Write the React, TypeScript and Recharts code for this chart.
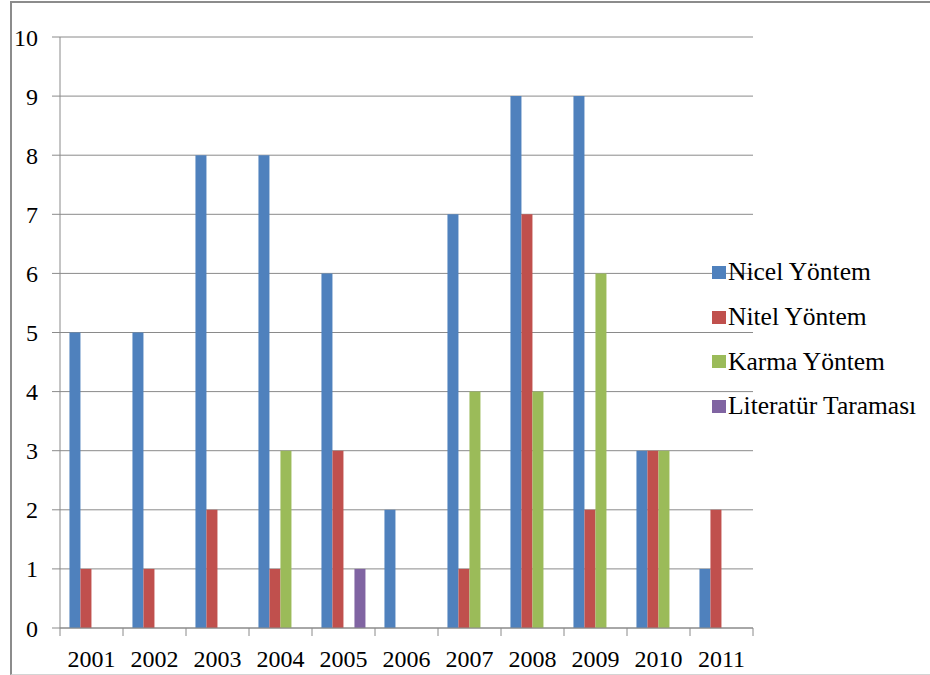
import { BarChart, Bar, XAxis, YAxis, CartesianGrid } from 'recharts';

const years = ['2001', '2002', '2003', '2004', '2005', '2006', '2007', '2008', '2009', '2010', '2011'];
const nicel = [5, 5, 8, 8, 6, 2, 7, 9, 9, 3, 1];
const nitel = [1, 1, 2, 1, 3, 0, 1, 7, 2, 3, 2];
const karma = [0, 0, 0, 3, 0, 0, 4, 4, 6, 3, 0];
const literatur = [0, 0, 0, 0, 1, 0, 0, 0, 0, 0, 0];
const yTicks = [0, 1, 2, 3, 4, 5, 6, 7, 8, 9, 10];

const series = [
  { key: 'nicel', name: 'Nicel Yöntem', color: '#4F81BD' },
  { key: 'nitel', name: 'Nitel Yöntem', color: '#C0504D' },
  { key: 'karma', name: 'Karma Yöntem', color: '#9BBB59' },
  { key: 'literatur', name: 'Literatür Taraması', color: '#8064A2' },
];

const data = years.map((y, i) => ({
  year: y,
  nicel: nicel[i],
  nitel: nitel[i],
  karma: karma[i],
  literatur: literatur[i],
}));

const FONT = "'Liberation Serif', 'Times New Roman', serif";
const GRID = '#8a8a8a';
const HALF_BAND = 693 / 11 / 2;

// Excel-style category axis: tick marks sit between the categories
function YearTick(props: any) {
  const { x, y, payload, index } = props;
  const top = y - 8;
  return (
    <g>
      <line x1={x - HALF_BAND} x2={x - HALF_BAND} y1={top} y2={top + 8} stroke={GRID} />
      {index === years.length - 1 && (
        <line x1={x + HALF_BAND} x2={x + HALF_BAND} y1={top} y2={top + 8} stroke={GRID} />
      )}
      <text x={x} y={top + 39} textAnchor="middle" fontSize={24} style={{ fontFamily: FONT }} fill="#000">
        {payload.value}
      </text>
    </g>
  );
}

export default function App() {
  return (
    <div style={{ position: 'absolute', left: 0, top: 0, width: 930, height: 675, background: '#fff' }}>
      <div
        style={{
          position: 'absolute',
          left: 10,
          top: 1,
          width: 920,
          height: 671,
          borderTop: '2px solid #8c8c8c',
          borderLeft: '2px solid #8c8c8c',
          borderBottom: '1px solid #d4d4d4',
        }}
      />
      <BarChart
        width={930}
        height={675}
        data={data}
        margin={{ top: 37, right: 177, bottom: 0, left: 12 }}
        barCategoryGap="15%"
        barGap={0}
        style={{ fontFamily: FONT }}
      >
        <CartesianGrid vertical={false} stroke={GRID} />
        <XAxis
          dataKey="year"
          stroke={GRID}
          tickLine={false}
          tick={<YearTick />}
          interval={0}
          height={47}
        />
        <YAxis
          domain={[0, 10]}
          ticks={yTicks}
          interval={0}
          width={48}
          stroke={GRID}
          tickSize={8}
          tickMargin={14}
          tick={{ fontSize: 24, fill: '#000', style: { fontFamily: FONT } }}
        />
        {series.map((s) => (
          <Bar key={s.key} dataKey={s.key} name={s.name} fill={s.color} isAnimationActive={false} />
        ))}
      </BarChart>
      <div style={{ position: 'absolute', left: 712, top: 250, fontFamily: FONT, fontSize: 25.5, color: '#000' }}>
        {series.map((s) => (
          <div key={s.key} style={{ display: 'flex', alignItems: 'center', height: 44.7, whiteSpace: 'nowrap' }}>
            <span style={{ width: 14, height: 13, background: s.color, marginRight: 2, display: 'inline-block' }} />
            <span>{s.name}</span>
          </div>
        ))}
      </div>
    </div>
  );
}
